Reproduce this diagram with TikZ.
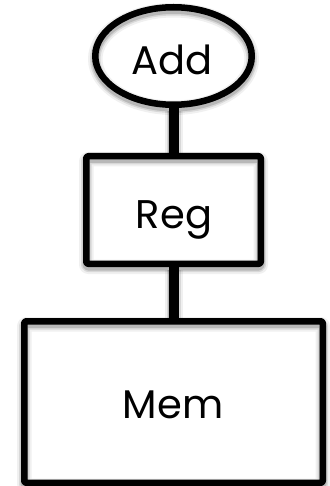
\documentclass[tikz,border=0pt]{standalone}
\usepackage{fontspec}
\setmainfont{Poppins}
\usetikzlibrary{shapes.geometric}
\begin{document}
\begin{tikzpicture}[x=1pt,y=-1pt,
  softshadow/.style={
    preaction={draw=black,opacity=.06,line width=#1+8pt,transform canvas={yshift=-3pt}},
    preaction={draw=black,opacity=.10,line width=#1+4pt,transform canvas={yshift=-3pt}},
    preaction={draw=black,opacity=.15,line width=#1+1pt,transform canvas={yshift=-3pt}},
    line width=#1},
  unit/.style={draw=black,softshadow=6.5pt,inner sep=0pt,line join=round},
  boxunit/.style={unit,rectangle,rounded corners=2pt},
  wire/.style={draw=black,softshadow=10pt},
  caption/.style={font=\fontsize{40}{44}\selectfont,inner sep=0pt,anchor=base}]
  \useasboundingbox (0,0) rectangle (329,486);
  % adder, register file and memory
  \node[unit,ellipse,minimum width=156.5pt,minimum height=97.5pt] (add) at (173.5,56) {};
  \node[boxunit,minimum width=174.5pt,minimum height=107.5pt] (reg) at (173.5,210) {};
  \node[boxunit,minimum width=298.5pt,minimum height=161.5pt] (mem) at (173.5,402) {};
  % links between the units
  \draw[wire] (add.south) -- (reg.north);
  \draw[wire] (reg.south) -- (mem.north);
  % labels
  \node[caption] (addtext) at (172,75) {Add};
  \node[caption] (regtext) at (174,228) {Reg};
  \node[caption] (memtext) at (173,418) {Mem};
\end{tikzpicture}
\end{document}
